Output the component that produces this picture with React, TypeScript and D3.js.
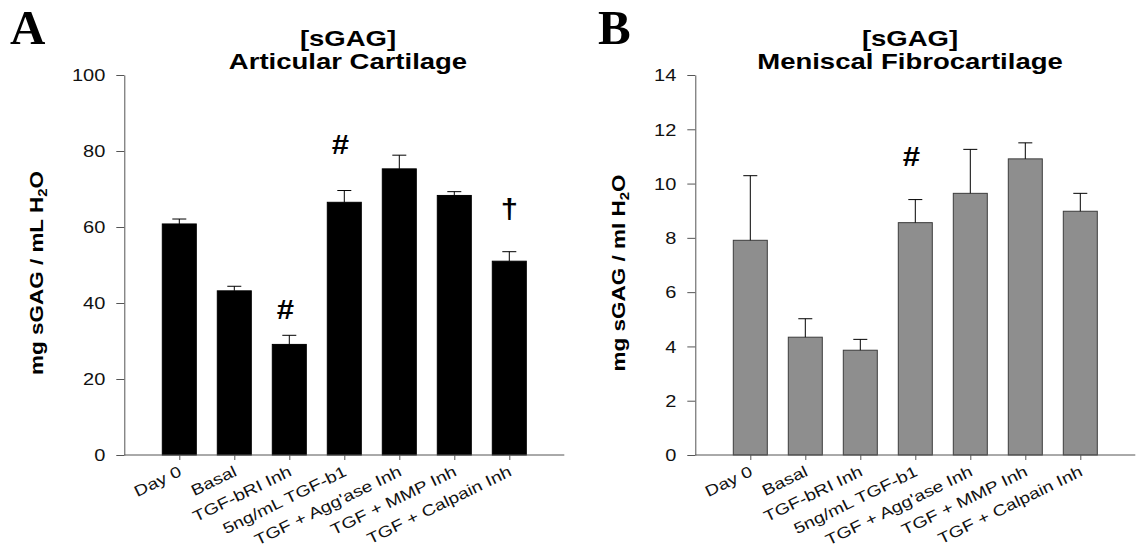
import { useEffect, useRef } from "react";
import * as d3 from "d3";

// treatment groups, same for both panels
const categories = [
  "Day 0",
  "Basal",
  "TGF-bRI Inh",
  "5ng/mL TGF-b1",
  "TGF + Agg'ase Inh",
  "TGF + MMP Inh",
  "TGF + Calpain Inh",
];

// A: articular cartilage, mg sGAG / mL H2O
const articularMeans = [60.8, 43.2, 29.1, 66.5, 75.3, 68.3, 51.0];
const articularErr = [1.3, 1.2, 2.4, 3.1, 3.6, 1.0, 2.5];
const articularTicks = [0, 20, 40, 60, 80, 100];
const articularMarkCats = ["TGF-bRI Inh", "5ng/mL TGF-b1", "TGF + Calpain Inh"];
const articularMarkSymbols = ["#", "#", "†"];
const articularMarkLevels = [35.8, 79.2, 62.4];

// B: meniscal fibrocartilage, mg sGAG / ml H2O
const meniscalMeans = [7.91, 4.34, 3.86, 8.56, 9.64, 10.91, 8.98];
const meniscalErr = [2.38, 0.68, 0.4, 0.85, 1.62, 0.59, 0.66];
const meniscalTicks = [0, 2, 4, 6, 8, 10, 12, 14];
const meniscalMarkCats = ["5ng/mL TGF-b1"];
const meniscalMarkSymbols = ["#"];
const meniscalMarkLevels = [10.65];

const W = 1138;
const H = 554;
const TOP = 75;
const BOTTOM = 455;
const STEP = 55;
const BAR_W = 34;
const SX = 1.25; // the original lettering is wider than Arial
const FONT = "'Liberation Sans', Arial, sans-serif";

function drawPanel(svg, p) {
  const g = svg.append("g");
  const x = d3
    .scalePoint()
    .domain(categories)
    .range([p.axisX + STEP, p.axisX + STEP * 7]);
  const y = d3.scaleLinear().domain([0, p.max]).range([BOTTOM, TOP]);

  // panel letter
  g.append("text")
    .attr("x", p.letterX)
    .attr("y", 44)
    .attr("font-family", "'Liberation Serif', 'Times New Roman', serif")
    .attr("font-weight", "bold")
    .attr("font-size", 49)
    .text(p.letter);

  // two line title
  [["[sGAG]", 46], [p.title, 69]].forEach(([t, by]) => {
    g.append("text")
      .attr("transform", `translate(${p.titleX},${by}) scale(${SX},1)`)
      .attr("text-anchor", "middle")
      .attr("font-family", FONT)
      .attr("font-weight", "bold")
      .attr("font-size", 22)
      .text(t);
  });

  // y label
  const yl = g
    .append("text")
    .attr("transform", `translate(${p.yLabelX},273) rotate(-90) scale(${SX},1)`)
    .attr("text-anchor", "middle")
    .attr("font-family", FONT)
    .attr("font-weight", "bold")
    .attr("font-size", 18);
  yl.append("tspan").text(p.yLabel);
  yl.append("tspan").attr("dy", 4).attr("font-size", 12).text("2");
  yl.append("tspan").attr("dy", -4).text("O");

  // bars
  g.selectAll("rect.bar")
    .data(p.means)
    .join("rect")
    .attr("class", "bar")
    .attr("x", (d, i) => x(categories[i]) - BAR_W / 2)
    .attr("width", BAR_W)
    .attr("y", (d) => y(d))
    .attr("height", (d) => y(0) - y(d))
    .attr("fill", p.fill)
    .attr("stroke", p.stroke)
    .attr("stroke-width", 1);

  // upper error bars
  const eb = g
    .selectAll("g.err")
    .data(p.means)
    .join("g")
    .attr("class", "err")
    .attr("stroke", "#000")
    .attr("stroke-width", 1);
  eb.append("line")
    .attr("x1", (d, i) => x(categories[i]))
    .attr("x2", (d, i) => x(categories[i]))
    .attr("y1", (d) => y(d))
    .attr("y2", (d, i) => y(d + p.err[i]));
  eb.append("line")
    .attr("x1", (d, i) => x(categories[i]) - 7)
    .attr("x2", (d, i) => x(categories[i]) + 7)
    .attr("y1", (d, i) => y(d + p.err[i]))
    .attr("y2", (d, i) => y(d + p.err[i]));

  // significance marks
  p.markCats.forEach((c, i) => {
    g.append("text")
      .attr(
        "transform",
        `translate(${x(c) - (p.markSymbols[i] === "#" ? 4 : 0)},${y(p.markLevels[i])}) scale(1.15,1)`
      )
      .attr("text-anchor", "middle")
      .attr("font-family", FONT)
      .attr("font-weight", "bold")
      .attr("font-size", 27)
      .text(p.markSymbols[i]);
  });

  // y axis
  const ya = g
    .append("g")
    .attr("transform", `translate(${p.axisX},0)`)
    .call(d3.axisLeft(y).tickValues(p.ticks).tickSize(8).tickSizeOuter(0));
  ya.selectAll("path, line").attr("stroke", "#555");
  ya.selectAll("text")
    .attr("x", null)
    .attr("dy", "0.36em")
    .attr("transform", `translate(-19,0) scale(${SX},1)`)
    .attr("font-family", FONT)
    .attr("font-size", 16)
    .attr("fill", "#111");

  // x axis
  const xa = g
    .append("g")
    .attr("transform", `translate(0,${BOTTOM})`)
    .call(d3.axisBottom(x).tickSize(5).tickSizeOuter(0));
  xa.select(".domain").remove();
  xa.append("line")
    .attr("x1", p.axisX)
    .attr("x2", p.axisX + STEP * 8)
    .attr("stroke", "#555");
  xa.selectAll("line").attr("stroke", "#555");
  xa.selectAll(".tick text")
    .attr("x", null)
    .attr("y", null)
    .attr("dy", null)
    .attr("text-anchor", "end")
    .attr("transform", `translate(3,20) rotate(-26) scale(${SX},1)`)
    .attr("font-family", FONT)
    .attr("font-size", 15.5)
    .attr("fill", "#111");
}

export default function App() {
  const ref = useRef(null);

  useEffect(() => {
    const svg = d3.select(ref.current);
    svg.selectAll("*").remove();

    drawPanel(svg, {
      letter: "A",
      letterX: 10,
      axisX: 124.3,
      titleX: 348,
      max: 100,
      ticks: articularTicks,
      title: "Articular Cartilage",
      yLabel: "mg sGAG / mL H",
      yLabelX: 43,
      means: articularMeans,
      err: articularErr,
      fill: "#000",
      stroke: "#000",
      markCats: articularMarkCats,
      markSymbols: articularMarkSymbols,
      markLevels: articularMarkLevels,
    });

    drawPanel(svg, {
      letter: "B",
      letterX: 598,
      axisX: 695.3,
      titleX: 910,
      max: 14,
      ticks: meniscalTicks,
      title: "Meniscal Fibrocartilage",
      yLabel: "mg sGAG / ml H",
      yLabelX: 625,
      means: meniscalMeans,
      err: meniscalErr,
      fill: "#8e8e8e",
      stroke: "#3c3c3c",
      markCats: meniscalMarkCats,
      markSymbols: meniscalMarkSymbols,
      markLevels: meniscalMarkLevels,
    });
  }, []);

  return (
    <svg
      ref={ref}
      width={W}
      height={H}
      style={{ position: "absolute", left: 0, top: 0, background: "#fff" }}
    ></svg>
  );
}
